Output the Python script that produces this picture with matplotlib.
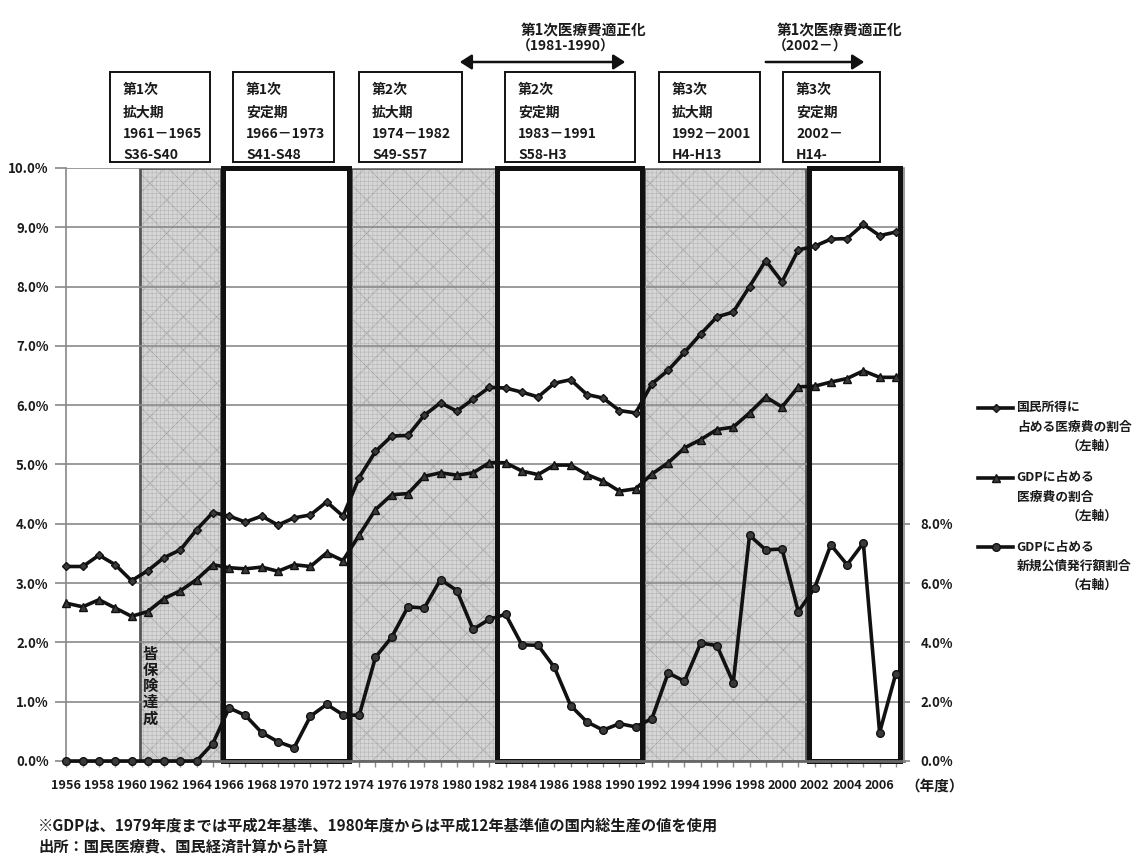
import matplotlib
matplotlib.use("Agg")
import matplotlib.pyplot as plt
from matplotlib.patches import Rectangle, FancyArrowPatch
from matplotlib.lines import Line2D
from matplotlib.ticker import FuncFormatter

plt.rcParams["font.family"] = ["Noto Sans CJK JP", "DejaVu Sans"]
plt.rcParams["hatch.linewidth"] = 0.35

# 年度別データ（%）
years = list(range(1956, 2008))
nat_income_ratio = [3.28, 3.28, 3.47, 3.31, 3.04, 3.21, 3.43, 3.56, 3.90, 4.19,
                    4.13, 4.03, 4.13, 3.98, 4.10, 4.15, 4.37, 4.13, 4.78, 5.22,
                    5.48, 5.49, 5.83, 6.04, 5.90, 6.10, 6.30, 6.29, 6.22, 6.14,
                    6.37, 6.43, 6.18, 6.12, 5.91, 5.87, 6.36, 6.59, 6.89, 7.20,
                    7.49, 7.57, 8.00, 8.44, 8.08, 8.62, 8.68, 8.80, 8.81, 9.05,
                    8.86, 8.92]
gdp_medical_ratio = [2.66, 2.60, 2.72, 2.58, 2.44, 2.52, 2.74, 2.87, 3.06, 3.31,
                     3.26, 3.24, 3.27, 3.20, 3.31, 3.28, 3.51, 3.38, 3.81, 4.24,
                     4.49, 4.51, 4.80, 4.86, 4.82, 4.86, 5.03, 5.03, 4.89, 4.83,
                     4.99, 4.99, 4.83, 4.72, 4.55, 4.59, 4.84, 5.03, 5.28, 5.42,
                     5.59, 5.63, 5.87, 6.14, 5.97, 6.31, 6.32, 6.39, 6.45, 6.58,
                     6.47, 6.47]
gdp_bond_ratio = [0, 0, 0, 0, 0, 0, 0, 0, 0, 0.59,
                  1.79, 1.54, 0.96, 0.65, 0.45, 1.51, 1.91, 1.56, 1.54, 3.50,
                  4.18, 5.20, 5.16, 6.12, 5.75, 4.44, 4.78, 4.95, 3.92, 3.90,
                  3.16, 1.87, 1.32, 1.04, 1.26, 1.15, 1.43, 2.97, 2.69, 3.98,
                  3.89, 2.64, 7.61, 7.12, 7.15, 5.04, 5.83, 7.29, 6.62, 7.35,
                  0.96, 2.95]

# 拡大期（網掛け）と安定期（太枠）
expansion_periods = [(1960.5, 1965.5), (1973.5, 1982.5), (1991.5, 2001.5)]
stable_periods = [(1965.65, 1973.4), (1982.5, 1991.4), (2001.65, 2007.25)]

period_labels = [
    ["第1次", "拡大期", "1961－1965", "S36-S40"],
    ["第1次", "安定期", "1966－1973", "S41-S48"],
    ["第2次", "拡大期", "1974－1982", "S49-S57"],
    ["第2次", "安定期", "1983－1991", "S58-H3"],
    ["第3次", "拡大期", "1992－2001", "H4-H13"],
    ["第3次", "安定期", "2002－", "H14-"],
]

legend_labels = [
    ["国民所得に", "占める医療費の割合", "（左軸）"],
    ["GDPに占める", "医療費の割合", "（左軸）"],
    ["GDPに占める", "新規公債発行額割合", "（右軸）"],
]

W, H = 1137, 865


def fx(px):
    return px / W


def fy(py):
    return 1 - py / H


fig = plt.figure(figsize=(W / 100, H / 100), dpi=100)
ax = fig.add_axes([fx(66), fy(761), (904 - 66) / W, (761 - 168) / H])
ax.set_xlim(1955.97, 2007.5)
ax.set_ylim(0, 10)

for a, b in expansion_periods:
    ax.add_patch(Rectangle((a, 0), b - a, 10, facecolor="#d6d6d6", edgecolor="#b2b2b2",
                           hatch="++++", lw=0, zorder=0.1))
    ax.add_patch(Rectangle((a, 0), b - a, 10, fill=False, edgecolor="#9a9a9a",
                           hatch="x", lw=0, zorder=0.15))
    ax.add_patch(Rectangle((a, 0), b - a, 10, fill=False, edgecolor="#555555",
                           lw=2, zorder=0.2))

ax.yaxis.grid(True, color="#8a8a8a", lw=1.2)

for a, b in stable_periods:
    ax.add_patch(Rectangle((a, 0), b - a, 10, fill=False, edgecolor="#111111",
                           lw=3.6, zorder=2.5, clip_on=False))

line_kw = dict(color="#111111", lw=2.6, mec="#111111", mfc="#3a3a3a", clip_on=False, zorder=3)
ax.plot(years, nat_income_ratio, marker="D", ms=4.5, **line_kw)
ax.plot(years, gdp_medical_ratio, marker="^", ms=5.5, **line_kw)

ax2 = ax.twinx()
ax2.set_ylim(0, 20)
ax2.plot(years, gdp_bond_ratio, marker="o", ms=5.5, **line_kw)

# 左軸
ax.set_yticks(range(0, 11))
ax.yaxis.set_major_formatter(FuncFormatter(lambda v, p: f"{v:.1f}%"))
ax.tick_params(axis="y", length=8, width=1.2, color="#888888", pad=4.5,
               labelsize=9.5, labelcolor="#1a1a1a")
# 横軸（毎年目盛り、2年おきにラベル）
ax.set_xticks(years)
ax.set_xticklabels([str(y) if y % 2 == 0 else "" for y in years])
ax.tick_params(axis="x", length=4, width=1, color="#888888", pad=9,
               labelsize=9.2, labelcolor="#1a1a1a")
for lbl in ax.get_xticklabels() + ax.get_yticklabels():
    lbl.set_fontweight("bold")

# 右軸（0〜8%のみ表示）
ax2.set_yticks([0, 2, 4, 6, 8])
ax2.yaxis.set_major_formatter(FuncFormatter(lambda v, p: f"{v:.1f}%"))
ax2.tick_params(axis="y", length=4, width=1.2, color="#888888", pad=8,
                labelsize=9.5, labelcolor="#1a1a1a")
for lbl in ax2.get_yticklabels():
    lbl.set_fontweight("bold")

for s in ["top", "right"]:
    ax.spines[s].set_visible(False)
for s in ["top", "left", "bottom"]:
    ax2.spines[s].set_visible(False)
ax.spines["left"].set_color("#888888")
ax.spines["left"].set_linewidth(1.2)
ax.spines["bottom"].set_color("#666666")
ax.spines["bottom"].set_linewidth(2)
ax2.spines["right"].set_color("#888888")
ax2.spines["right"].set_linewidth(1.2)

# 皆保険達成（縦書き）
for i, ch in enumerate("皆保険達成"):
    ax.text(1961.15, 1.80 - i * 0.27, ch, ha="center", va="center",
            fontsize=11, fontweight="bold", color="#1a1a1a", zorder=4)

# 上部の期間ボックス
box_lefts = [110, 233, 359, 505, 659, 783]
box_widths = [100, 101, 103, 130, 101, 97]
line_ys = [90, 113, 134, 155]
for left, width, lines in zip(box_lefts, box_widths, period_labels):
    fig.add_artist(Rectangle((fx(left), fy(162)), width / W, (162 - 72) / H,
                             transform=fig.transFigure, facecolor="white",
                             edgecolor="#111111", lw=1.4))
    for ty, txt in zip(line_ys, lines):
        fig.text(fx(left + 13), fy(ty), txt, ha="left", va="center",
                 fontsize=10, fontweight="bold", color="#1a1a1a")

# 医療費適正化の矢印
fig.text(fx(521), fy(30), "第1次医療費適正化", fontsize=10.5, fontweight="bold",
         va="center", color="#1a1a1a")
fig.text(fx(517), fy(47), "（1981-1990）", fontsize=10, fontweight="bold",
         va="center", color="#1a1a1a")
fig.add_artist(FancyArrowPatch((fx(457), fy(62)), (fx(628), fy(62)),
                               transform=fig.transFigure,
                               arrowstyle="<|-|>,head_length=0.7,head_width=0.45",
                               mutation_scale=10, lw=1.8, color="#111111"))
fig.text(fx(777), fy(30), "第1次医療費適正化", fontsize=10.5, fontweight="bold",
         va="center", color="#1a1a1a")
fig.text(fx(773), fy(47), "（2002－）", fontsize=10, fontweight="bold",
         va="center", color="#1a1a1a")
fig.add_artist(FancyArrowPatch((fx(763), fy(62)), (fx(867), fy(62)),
                               transform=fig.transFigure,
                               arrowstyle="-|>,head_length=0.7,head_width=0.45",
                               mutation_scale=10, lw=1.8, color="#111111"))

# 凡例
legend_ys = [408, 478, 547]
markers = [("D", 4.5), ("^", 5.5), ("o", 5.5)]
for ly, (mk, ms), lines in zip(legend_ys, markers, legend_labels):
    fig.add_artist(Line2D([fx(978), fx(995.5), fx(1013)], [fy(ly)] * 3,
                          transform=fig.transFigure, color="#111111", lw=2.6,
                          marker=mk, ms=ms, markevery=[1], mec="#111111", mfc="#3a3a3a"))
    fig.text(fx(1016), fy(ly), lines[0], fontsize=9.2, fontweight="bold",
             va="center", color="#1a1a1a")
    fig.text(fx(1017), fy(ly + 19), lines[1], fontsize=9.2, fontweight="bold",
             va="center", color="#1a1a1a")
    fig.text(fx(1118), fy(ly + 38), lines[2], fontsize=9.2, fontweight="bold",
             va="center", ha="right", color="#1a1a1a")

fig.text(fx(935), fy(786), "（年度）", fontsize=10.5, fontweight="bold",
         ha="center", va="center", color="#1a1a1a")

# 注記
fig.text(fx(38), fy(825), "※GDPは、1979年度までは平成2年基準、1980年度からは平成12年基準値の国内総生産の値を使用",
         fontsize=11, fontweight="bold", va="center", color="#1a1a1a")
fig.text(fx(38), fy(846), "出所：国民医療費、国民経済計算から計算",
         fontsize=11, fontweight="bold", va="center", color="#1a1a1a")

fig.savefig("out.png", dpi=100)
